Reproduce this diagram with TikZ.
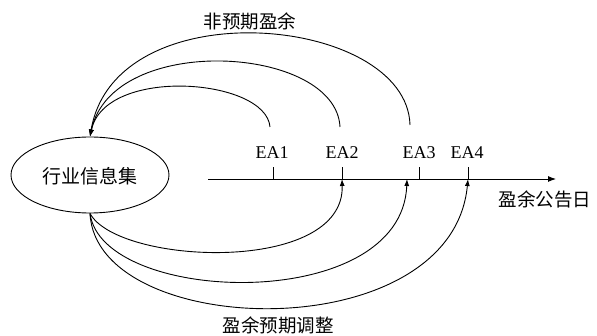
\documentclass[tikz,border=0pt]{standalone}
\usepackage{fontspec}
\setmainfont{Liberation Serif}
\newfontfamily\cjk{Noto Sans CJK SC}
\usetikzlibrary{arrows.meta,shapes.geometric}
\tikzset{
  line/.style={line width=0.9pt,black},
  arc/.style={line width=0.9pt,black,-{Latex[length=7pt,width=5pt]}},
  zh/.style={font=\cjk\fontsize{18.5}{20}\selectfont,inner sep=0pt},
  ea/.style={font=\fontsize{18}{20}\selectfont,inner sep=0pt},
}
\begin{document}
\begin{tikzpicture}[x=1pt,y=-1pt]
\useasboundingbox (0,0) rectangle (597,336);
\node[draw,line width=0.9pt,ellipse,minimum width=158pt,minimum height=76pt,inner sep=0pt] (info) at (90,175) {};
\node[zh,font=\cjk\fontsize{19}{20}\selectfont] (infot) at (90,176) {行业信息集};
% axis
\coordinate (a0) at (208,179);
\coordinate (a1) at (556,179);
\draw[line,-{Latex[length=8pt,width=6pt]}] (a0) -- (a1);
\node[zh] (axl) at (545,199) {盈余公告日};
% ticks
\coordinate (t1) at (273,179); \coordinate (t1u) at (273,167);
\coordinate (t2) at (342,179); \coordinate (t2u) at (342,167);
\coordinate (t3) at (419,179); \coordinate (t3u) at (419,167);
\coordinate (t4) at (468,179); \coordinate (t4u) at (468,167);
\coordinate (b3) at (407,179);
\draw[line] (t1) -- (t1u);
\draw[line] (t2) -- (t2u);
\draw[line] (t3) -- (t3u);
\draw[line] (t4) -- (t4u);
\node[ea] (ea1) at (272,153) {EA1};
\node[ea] (ea2) at (342,153) {EA2};
\node[ea] (ea3) at (419,153) {EA3};
\node[ea] (ea4) at (467,153) {EA4};
% top arcs
\coordinate (s1) at (270,127);
\coordinate (s2) at (340,127);
\coordinate (s3) at (410,125);
\draw[arc] (s1) .. controls (266,78) and (105,66) .. (info.north);
\draw[arc] (s2) .. controls (336,45) and (112,32) .. (info.north);
\draw[arc] (s3) .. controls (407,15) and (115,-12) .. (info.north);
\node[zh] (topl) at (250,21) {非预期盈余};
% bottom arcs
\draw[arc] (info.south) .. controls (118,265) and (345,275) .. (t2);
\draw[arc] (info.south) .. controls (102,305) and (402,315) .. (b3);
\draw[arc] (info.south) .. controls (96,340) and (452,350) .. (t4);
\node[zh] (botl) at (278,325) {盈余预期调整};
\end{tikzpicture}
\end{document}
